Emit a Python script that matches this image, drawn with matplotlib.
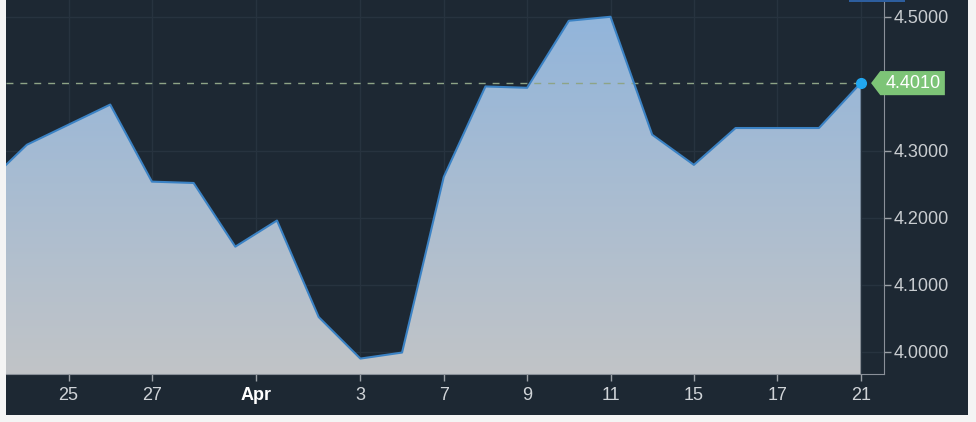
import numpy as np
import matplotlib
matplotlib.use("Agg")
import matplotlib.pyplot as plt
from matplotlib.patches import Rectangle, Polygon

# trading days, Mar 21 .. Apr 21
dates = ["Mar 21", "Mar 24", "Mar 25", "Mar 26", "Mar 27", "Mar 28", "Mar 31",
         "Apr 1", "Apr 2", "Apr 3", "Apr 4", "Apr 7", "Apr 8", "Apr 9", "Apr 10",
         "Apr 11", "Apr 14", "Apr 15", "Apr 16", "Apr 17", "Apr 18", "Apr 21"]
values = [4.249, 4.309, 4.339, 4.369, 4.254, 4.252, 4.157, 4.196, 4.052, 3.990,
          3.999, 4.261, 4.396, 4.394, 4.494, 4.500, 4.324, 4.279, 4.334, 4.334,
          4.334, 4.401]
tick_pos = [2, 4, 6.5, 9, 11, 13, 15, 17, 19, 21]
tick_labels = ["25", "27", "Apr", "3", "7", "9", "11", "15", "17", "21"]
y_ticks = [4.0, 4.1, 4.2, 4.3, 4.5]   # 4.4 is hidden behind the price tag
last_value = 4.401

bg = "#1d2833"
plt.rcParams["font.family"] = ["Liberation Sans", "DejaVu Sans"]

fig = plt.figure(figsize=(9.76, 4.22), dpi=100)
fig.patch.set_facecolor("#f4f4f4")
fig.patches.append(Rectangle((6 / 976, 1 - 415 / 422), 962 / 976, 415 / 422,
                             transform=fig.transFigure, facecolor=bg, edgecolor="none", zorder=-10))

ax = fig.add_axes([6 / 976, 1 - 374 / 422, 878 / 976, 374 / 422])
ax.set_facecolor(bg)
ax.set_axisbelow(True)
x = np.arange(len(values))
xmin, xmax = 0.5, 21.56
ymin, ymax = 3.967, 4.525
ax.set_xlim(xmin, xmax)
ax.set_ylim(ymin, ymax)

# gradient area
fb = ax.fill_between(x, values, ymin, color="none", lw=0)
grad = np.linspace(0, 1, 256).reshape(-1, 1)
top_c = np.array([0x92, 0xb5, 0xdb]) / 255
bot_c = np.array([0xc1, 0xc4, 0xc7]) / 255
img = top_c[None, None, :] * (1 - grad[:, :, None]) + bot_c[None, None, :] * grad[:, :, None]
im = ax.imshow(img, extent=[xmin, 21, ymin, 4.5], aspect="auto", origin="upper", zorder=1)
im.set_clip_path(fb.get_paths()[0], transform=ax.transData)
ax.plot(x, values, color="#3b82c4", lw=1.5, zorder=3)

ax.hlines(last_value, xmin, 21, colors="#8ea487", linestyles=(0, (5, 5)), lw=1, zorder=2)
ax.plot([21], [last_value], "o", color="#22a7f0", ms=7, zorder=4)

# price label
box = Polygon([(21.25, last_value), (21.47, 4.419), (23.02, 4.419), (23.02, 4.383), (21.47, 4.383)],
              closed=True, facecolor="#7dc477", edgecolor="none", clip_on=False, zorder=5)
ax.add_patch(box)
ax.text(22.27, last_value, "%.4f" % last_value, color="white", fontsize=13,
        ha="center", va="center", clip_on=False, zorder=6)

ax.set_xticks(tick_pos)
ax.set_xticklabels(tick_labels)
ax.set_yticks(y_ticks)
ax.set_yticklabels(["%.4f" % v for v in y_ticks])
ax.yaxis.tick_right()
ax.tick_params(axis="x", colors="#9aa0a6", labelcolor="#d0d4d8", length=5, width=1, labelsize=13, pad=4)
ax.tick_params(axis="y", colors="#9aa0a6", labelcolor="#c8ccd0", length=5, width=1, labelsize=13, pad=2)
for lbl in ax.get_xticklabels():
    if lbl.get_text() == "Apr":
        lbl.set_fontweight("bold")
        lbl.set_color("white")

ax.grid(True, color="#27333f", lw=1)
for s in ["top", "left"]:
    ax.spines[s].set_visible(False)
ax.spines["right"].set_color("#8a9099")
ax.spines["bottom"].set_color("#8a9099")

# small blue tab at the top edge
fig.patches.append(Rectangle((849 / 976, 1 - 2 / 422), 56 / 976, 2 / 422,
                             transform=fig.transFigure, facecolor="#2d5e9e", edgecolor="none", zorder=10))

fig.savefig("out.png", dpi=100, facecolor=fig.get_facecolor())
